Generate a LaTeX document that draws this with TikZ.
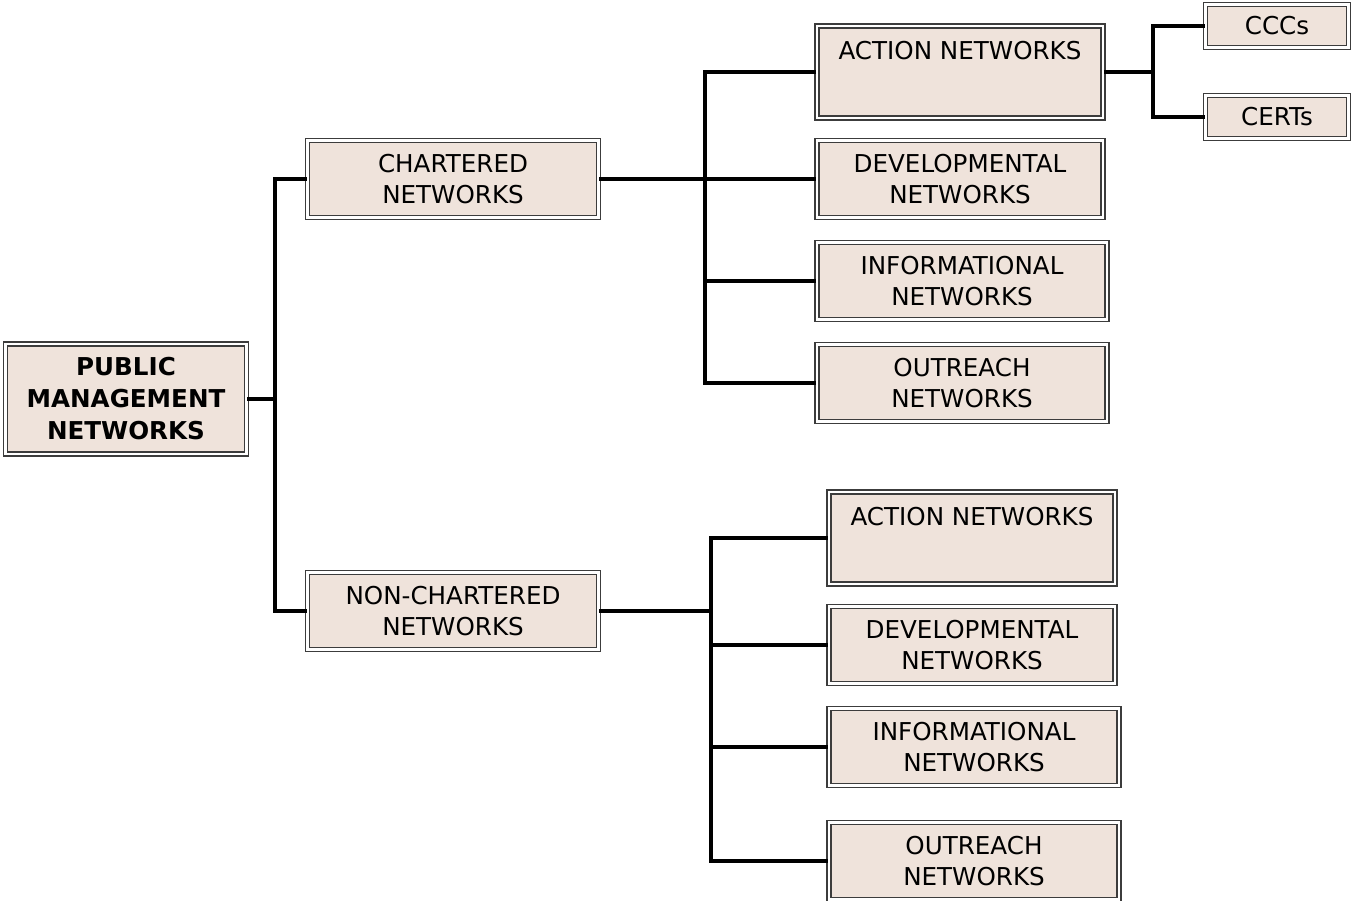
\documentclass[tikz,border=0pt]{standalone}
\usepackage{fontspec}
\setmainfont{DejaVu Sans}
\definecolor{boxfill}{HTML}{EFE3DB}
\definecolor{boxline}{HTML}{3C3C3C}
\begin{document}
\begin{tikzpicture}
  [x=0.02cm,y=-0.02cm,every node/.style={rectangle,fill=boxfill,draw=boxline,double=white,
   double distance=1.2pt,line width=0.9pt,align=center,inner sep=0pt,
   font=\fontsize{14}{17.6}\selectfont}]
  \tikzstyle{link} = [line width=2.4pt,black]
  \tikzstyle{actbox} = [text height=0.68cm,text depth=1.16cm,minimum width=5.72cm]
  \useasboundingbox (0,0) rectangle (1353,901);
  \node[minimum width=4.82cm,minimum height=2.2cm,font=\fontsize{14}{18.2}\selectfont\bfseries] (pmn) at (126,399) {PUBLIC\\MANAGEMENT\\NETWORKS};
  \node[minimum width=5.82cm,minimum height=1.54cm] (ch) at (453,179) {CHARTERED\\NETWORKS};
  \node[minimum width=5.82cm,minimum height=1.54cm] (nch) at (453,611) {NON-CHARTERED\\NETWORKS};
  \node[actbox] (a1) at (960,72) {ACTION NETWORKS};
  \node[minimum width=5.72cm,minimum height=1.54cm] (d1) at (960,179) {DEVELOPMENTAL\\NETWORKS};
  \node[minimum width=5.8cm,minimum height=1.54cm] (i1) at (962,281) {INFORMATIONAL\\NETWORKS};
  \node[minimum width=5.8cm,minimum height=1.54cm] (o1) at (962,383) {OUTREACH\\NETWORKS};
  \node[minimum width=2.86cm,minimum height=0.86cm] (ccc) at (1277,26) {CCCs};
  \node[minimum width=2.86cm,minimum height=0.86cm] (cert) at (1277,117) {CERTs};
  \node[actbox] (a2) at (972,538) {ACTION NETWORKS};
  \node[minimum width=5.72cm,minimum height=1.54cm] (d2) at (972,645) {DEVELOPMENTAL\\NETWORKS};
  \node[minimum width=5.8cm,minimum height=1.54cm] (i2) at (974,747) {INFORMATIONAL\\NETWORKS};
  \node[minimum width=5.8cm,minimum height=1.54cm] (o2) at (974,861) {OUTREACH\\NETWORKS};

  \draw[link] (pmn.east) -- ++(28,0) coordinate (j0);
  \draw[link] (ch.west) -| (j0) |- (nch.west);
  \draw[link] (ch.east) -- ++(106,0) coordinate (j1);
  \draw[link] (nch.east) -- ++(112,0) coordinate (j2);
  \draw[link] (a1.east) -- ++(49,0) coordinate (j3);
\foreach \source /\dest in {j1/a1,j1/d1,j1/i1,j1/o1,j2/a2,j2/d2,j2/i2,j2/o2,j3/ccc,j3/cert}
   \draw[link] (\source) |- (\dest.west);
\end{tikzpicture}
\end{document}
